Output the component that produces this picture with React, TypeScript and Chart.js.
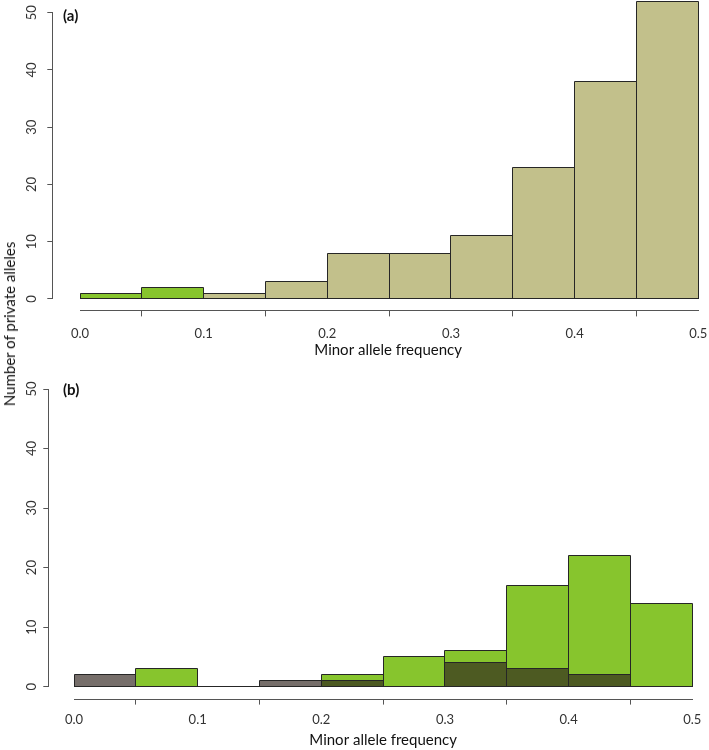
import React, { useEffect, useRef } from 'react';
import { Chart, registerables } from 'chart.js';

Chart.register(...registerables);

// ---- data ----
const binStarts = [0, 0.05, 0.1, 0.15, 0.2, 0.25, 0.3, 0.35, 0.4, 0.45];
const binWidth = 0.05;
const panelATan = [0, 0, 1, 3, 8, 8, 11, 23, 38, 52];
const panelAGreen = [1, 2, 0, 0, 0, 0, 0, 0, 0, 0];
const panelBGray = [2, 0, 0, 1, 1, 0, 4, 3, 2, 0];
const panelBGreen = [0, 3, 0, 0, 2, 5, 6, 17, 22, 14];
const xTickValues = [0, 0.1, 0.2, 0.3, 0.4, 0.5];
const yTickValues = [0, 10, 20, 30, 40, 50];
const xAxisTitle = 'Minor allele frequency';
const yAxisTitle = 'Number of private alleles';
const panelLabels = ['(a)', '(b)'];

// ---- styles ----
const FONT = 'Lato, "Open Sans", sans-serif';
const TAN = '#c2c08b';
const GREEN = '#87c52d';
const OVERLAY = 'rgba(47,35,29,0.66)';
const EDGE = '#262626';
const AXIS = '#555555';
const TEXT = '#333333';

const toPoints = (vals: number[]) => vals.map((v, i) => ({ x: binStarts[i] + binWidth / 2, y: v }));
const align = (p: number) => Math.round(p - 0.5) + 0.5;

const rAxesPlugin = {
  id: 'rAxes',
  afterDatasetsDraw(chart: any) {
    // crisp outlines for every bar (zero-count bins become a flat line, like R's hist)
    const ctx = chart.ctx;
    ctx.save();
    ctx.strokeStyle = EDGE;
    ctx.lineWidth = 1;
    const n = chart.data.datasets.length;
    for (let di = n - 1; di >= 0; di--) {
      const meta = chart.getDatasetMeta(di);
      meta.data.forEach((el: any) => {
        const { x, y, base, width } = el.getProps(['x', 'y', 'base', 'width'], true);
        const l = align(x - width / 2);
        const r = align(x + width / 2);
        const t = align(Math.min(y, base));
        const b = align(Math.max(y, base));
        ctx.beginPath();
        if (b - t < 0.5) {
          ctx.moveTo(l - 0.5, b);
          ctx.lineTo(r + 0.5, b);
        } else {
          ctx.rect(l, t, r - l, b - t);
        }
        ctx.stroke();
      });
    }
    ctx.restore();
  },
  afterDraw(chart: any) {
    const ctx = chart.ctx;
    const xs = chart.scales.x;
    const ys = chart.scales.y;
    const area = chart.chartArea;
    ctx.save();
    ctx.strokeStyle = AXIS;
    ctx.lineWidth = 1;
    const lx = Math.round(area.left) - 0.5;
    const yTop = align(ys.getPixelForValue(yTickValues[yTickValues.length - 1]));
    const yBot = align(ys.getPixelForValue(yTickValues[0]));
    ctx.beginPath();
    ctx.moveTo(lx, yTop - 0.5);
    ctx.lineTo(lx, yBot + 0.5);
    ctx.stroke();
    const by = Math.round(area.bottom) + 0.5;
    const xL = align(xs.getPixelForValue(xTickValues[0]));
    const xR = align(xs.getPixelForValue(xTickValues[xTickValues.length - 1]));
    ctx.beginPath();
    ctx.moveTo(xL - 0.5, by);
    ctx.lineTo(xR + 0.5, by);
    ctx.stroke();
    ctx.restore();
  },
};

interface PanelSpec {
  series: { values: number[]; color: string }[];
  xMin: number;
  padTop: number;
  xHeight: number;
  yWidth: number;
  xTickPad: number;
  yTickPad: number;
  titlePad: number;
}

function makeConfig(p: PanelSpec): any {
  const font = { family: FONT, size: 13 };
  return {
    type: 'bar',
    data: {
      datasets: p.series.map((s) => ({
        data: toPoints(s.values),
        backgroundColor: s.color,
        borderWidth: 0,
        inflateAmount: 0,
        grouped: false,
        barPercentage: 1,
        categoryPercentage: 1,
      })),
    },
    options: {
      responsive: false,
      animation: false,
      devicePixelRatio: 1,
      layout: { padding: { top: p.padTop, left: 0, right: 0, bottom: 0 }, autoPadding: false },
      plugins: { legend: { display: false }, tooltip: { enabled: false }, title: { display: false } },
      scales: {
        x: {
          type: 'linear',
          min: p.xMin,
          max: 0.52,
          offset: false,
          afterBuildTicks: (s: any) => {
            s.ticks = xTickValues.map((v) => ({ value: v }));
          },
          ticks: {
            callback: (v: any) => Number(v).toFixed(1),
            padding: p.xTickPad,
            font,
            color: TEXT,
            autoSkip: false,
            maxRotation: 0,
            minRotation: 0,
          },
          grid: { drawOnChartArea: false, drawTicks: true, tickLength: 6, color: AXIS },
          border: { display: false },
          title: {
            display: true,
            text: xAxisTitle,
            font: { family: FONT, size: 15 },
            color: '#111',
            padding: { top: 0, bottom: p.titlePad },
          },
          afterFit: (s: any) => {
            s.height = p.xHeight;
            s.paddingLeft = 0;
            s.paddingRight = 0;
            s.paddingTop = 0;
            s.paddingBottom = 0;
          },
        },
        y: {
          type: 'linear',
          min: -2,
          max: 52,
          afterBuildTicks: (s: any) => {
            s.ticks = yTickValues.map((v) => ({ value: v }));
          },
          ticks: {
            minRotation: 90,
            maxRotation: 90,
            crossAlign: 'center',
            padding: p.yTickPad,
            font,
            color: TEXT,
            autoSkip: false,
          },
          grid: { drawOnChartArea: false, drawTicks: true, tickLength: 6, color: AXIS },
          border: { display: false },
          title: { display: false },
          afterFit: (s: any) => {
            s.width = p.yWidth;
            s.paddingLeft = 0;
            s.paddingRight = 0;
            s.paddingTop = 0;
            s.paddingBottom = 0;
          },
        },
      },
    },
    plugins: [rAxesPlugin],
  };
}

const panelA: PanelSpec = {
  series: [
    { values: panelAGreen, color: GREEN },
    { values: panelATan, color: TAN },
  ],
  xMin: -0.0216,
  padTop: 1.3,
  xHeight: 54.6,
  yWidth: 53.3,
  xTickPad: 10,
  yTickPad: 7.5,
  titlePad: 6.2,
};

const panelB: PanelSpec = {
  series: [
    { values: panelBGray, color: OVERLAY },
    { values: panelBGreen, color: GREEN },
  ],
  xMin: -0.02,
  padTop: 12.1,
  xHeight: 51.4,
  yWidth: 49.3,
  xTickPad: 7.4,
  yTickPad: 3.7,
  titlePad: 1.2,
};

function ChartCanvas({ spec, width, height, top }: { spec: PanelSpec; width: number; height: number; top: number }) {
  const ref = useRef<HTMLCanvasElement | null>(null);
  useEffect(() => {
    if (!ref.current) return;
    const chart = new Chart(ref.current, makeConfig(spec));
    return () => chart.destroy();
  }, [spec]);
  return (
    <canvas
      ref={ref}
      width={width}
      height={height}
      style={{ position: 'absolute', left: 0, top, width, height }}
    />
  );
}

export default function App() {
  const labelStyle: React.CSSProperties = {
    position: 'absolute',
    fontFamily: FONT,
    fontWeight: 700,
    fontSize: 15,
    lineHeight: '15px',
    color: '#111',
  };
  return (
    <div
      style={{
        position: 'absolute',
        left: 0,
        top: 0,
        width: 709,
        height: 750,
        overflow: 'hidden',
        background: '#fff',
      }}
    >
      <ChartCanvas spec={panelA} width={723} height={365} top={0} />
      <ChartCanvas spec={panelB} width={717} height={385} top={365} />
      <div style={{ ...labelStyle, left: 63, top: 8 }}>{panelLabels[0]}</div>
      <div style={{ ...labelStyle, left: 63, top: 382 }}>{panelLabels[1]}</div>
      <div
        style={{
          position: 'absolute',
          left: 9,
          top: 324,
          transform: 'translate(-50%, -50%) rotate(-90deg)',
          whiteSpace: 'nowrap',
          fontFamily: FONT,
          fontSize: 15,
          color: '#111',
        }}
      >
        {yAxisTitle}
      </div>
    </div>
  );
}
